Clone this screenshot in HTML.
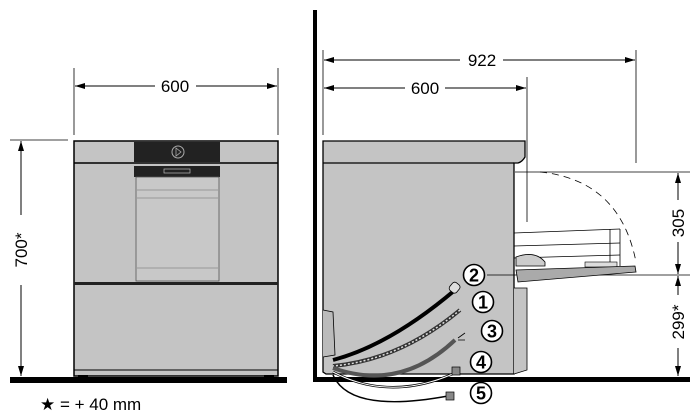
<!DOCTYPE html>
<html><head><style>
body{margin:0;background:#fff}
svg{display:block}
text{font-family:"Liberation Sans",Arial,sans-serif}
</style></head><body>
<svg width="700" height="420" viewBox="0 0 700 420" xmlns="http://www.w3.org/2000/svg">
<defs>
<marker id="a" viewBox="0 0 10 6" refX="10" refY="3" markerWidth="11" markerHeight="6" orient="auto-start-reverse" markerUnits="userSpaceOnUse"><path d="M0,0L10,3L0,6z" fill="#000"/></marker>
</defs>
<!-- LEFT FRONT VIEW -->
<rect x="10" y="377" width="277" height="6" fill="#000"/>
<line x1="74" y1="68" x2="74" y2="135" stroke="#000" stroke-width="0.8"/>
<line x1="278" y1="68" x2="278" y2="135" stroke="#000" stroke-width="0.8"/>
<line x1="75" y1="86" x2="155" y2="86" stroke="#000" stroke-width="1" marker-start="url(#a)"/>
<line x1="196" y1="86" x2="277" y2="86" stroke="#000" stroke-width="1" marker-end="url(#a)"/>
<text x="175" y="92" font-size="17" text-anchor="middle">600</text>
<line x1="10" y1="140" x2="68" y2="140" stroke="#000" stroke-width="0.8"/>
<line x1="21" y1="141" x2="21" y2="215" stroke="#000" stroke-width="1" marker-start="url(#a)"/>
<line x1="21" y1="285" x2="21" y2="376" stroke="#000" stroke-width="1" marker-end="url(#a)"/>
<text transform="translate(27,250) rotate(-90)" font-size="17" text-anchor="middle">700*</text>
<rect x="74" y="141" width="204" height="235" fill="#c4c4c4" stroke="#000" stroke-width="1.5"/>
<line x1="74" y1="163" x2="278" y2="163" stroke="#000" stroke-width="1.5"/>
<rect x="134" y="142" width="86" height="20" fill="#222"/>
<circle cx="178" cy="152" r="6" fill="none" stroke="#aaa" stroke-width="1"/>
<path d="M176,148L181,152L176,156z" fill="none" stroke="#aaa" stroke-width="0.8"/>
<rect x="134" y="166" width="86" height="11" fill="#222"/>
<rect x="164" y="169" width="26" height="4" fill="none" stroke="#bbb" stroke-width="0.7"/>
<rect x="136" y="177" width="83" height="104" fill="#c8c8c8" stroke="#555" stroke-width="0.8"/>
<line x1="137" y1="190" x2="218" y2="190" stroke="#888" stroke-width="0.7"/>
<line x1="137" y1="198" x2="218" y2="198" stroke="#888" stroke-width="0.7"/>
<line x1="137" y1="268" x2="218" y2="268" stroke="#888" stroke-width="0.7"/>
<rect x="74" y="282" width="204" height="3" fill="#222"/>
<line x1="74" y1="370" x2="278" y2="370" stroke="#000" stroke-width="1"/>
<rect x="78" y="375" width="10" height="3" fill="#000"/>
<rect x="264" y="375" width="10" height="3" fill="#000"/>
<text x="40" y="410" font-size="17">★ = + 40 mm</text>

<!-- RIGHT SIDE VIEW -->
<rect x="313" y="10" width="4" height="372" fill="#000"/>
<rect x="313" y="377" width="377" height="5" fill="#000"/>
<line x1="323" y1="50" x2="323" y2="135" stroke="#000" stroke-width="0.8"/>
<line x1="636" y1="50" x2="636" y2="163" stroke="#000" stroke-width="0.8"/>
<line x1="527" y1="77" x2="527" y2="222" stroke="#000" stroke-width="0.8"/>
<line x1="324" y1="60" x2="460" y2="60" stroke="#000" stroke-width="1" marker-start="url(#a)"/>
<line x1="503" y1="60" x2="635" y2="60" stroke="#000" stroke-width="1" marker-end="url(#a)"/>
<text x="482" y="66" font-size="17" text-anchor="middle">922</text>
<line x1="324" y1="88" x2="405" y2="88" stroke="#000" stroke-width="1" marker-start="url(#a)"/>
<line x1="445" y1="88" x2="526" y2="88" stroke="#000" stroke-width="1" marker-end="url(#a)"/>
<text x="425" y="94" font-size="17" text-anchor="middle">600</text>
<!-- cabinet -->
<path d="M323,141 L525,141 L525,157 Q522,162 518,163 L514,163 L514,374 L326,374 L323,372 Z" fill="#c4c4c4" stroke="#000" stroke-width="1.3"/>
<line x1="323" y1="163" x2="514" y2="163" stroke="#000" stroke-width="1.2"/>
<path d="M514,288 L527,288 L527,370 L514,374" fill="#c4c4c4" stroke="#000" stroke-width="0.8"/>
<path d="M323,310 L333,312 L335,355 L323,357" fill="#bbb" stroke="#000" stroke-width="0.8"/>
<!-- dimension 305/299 -->
<line x1="515" y1="172" x2="690" y2="172" stroke="#000" stroke-width="0.8"/>
<line x1="487" y1="275" x2="690" y2="275" stroke="#000" stroke-width="0.8"/>
<line x1="678" y1="173" x2="678" y2="200" stroke="#000" stroke-width="1" marker-start="url(#a)"/>
<line x1="678" y1="242" x2="678" y2="274" stroke="#000" stroke-width="1" marker-end="url(#a)"/>
<text transform="translate(684,223) rotate(-90)" font-size="17" text-anchor="middle">305</text>
<line x1="678" y1="276" x2="678" y2="295" stroke="#000" stroke-width="1" marker-start="url(#a)"/>
<line x1="678" y1="348" x2="678" y2="376" stroke="#000" stroke-width="1" marker-end="url(#a)"/>
<text transform="translate(684,322) rotate(-90)" font-size="17" text-anchor="middle">299*</text>
<!-- dashed arc -->
<path d="M540,172 Q620,180 636,262" fill="none" stroke="#000" stroke-width="0.8" stroke-dasharray="7,5"/>
<!-- rack -->
<line x1="514" y1="233" x2="620" y2="229" stroke="#000" stroke-width="0.8"/>
<line x1="514" y1="246" x2="620" y2="243" stroke="#000" stroke-width="0.8"/>
<line x1="514" y1="258" x2="620" y2="255" stroke="#000" stroke-width="0.8"/>
<line x1="610" y1="229" x2="610" y2="266" stroke="#000" stroke-width="0.8"/>
<line x1="620" y1="229" x2="620" y2="266" stroke="#000" stroke-width="0.8"/>
<path d="M516,257 Q535,250 545,262 L545,266 L516,266 Z" fill="#ccc" stroke="#000" stroke-width="0.8"/>
<rect x="585" y="262" width="32" height="5" fill="#ddd" stroke="#000" stroke-width="0.6"/>
<path d="M516,270 L635,266 L636,272 L518,282 Z" fill="#aaa" stroke="#000" stroke-width="0.8"/>
<!-- hoses -->
<path d="M455,290 Q390,345 333,360" stroke="#000" stroke-width="4" fill="none"/>
<rect x="450" y="283" width="9" height="10" rx="3" fill="#ddd" stroke="#000" stroke-width="0.8" transform="rotate(40 455 288)"/>
<path d="M460,310 Q400,360 333,366" stroke="#333" stroke-width="4" fill="none"/>
<path d="M460,310 Q400,360 333,366" stroke="#ddd" stroke-width="1.5" fill="none" stroke-dasharray="2,2"/>
<path d="M455,340 Q400,392 333,368" stroke="#555" stroke-width="4" fill="none"/>
<path d="M458,338 L465,333 M458,340 L465,340" stroke="#000" stroke-width="0.8"/>
<path d="M455,373 Q390,402 333,372" stroke="#000" stroke-width="2.5" fill="none"/>
<path d="M455,373 Q390,402 333,372" stroke="#fff" stroke-width="1" fill="none"/>
<rect x="452" y="367" width="8" height="8" fill="#888" stroke="#000" stroke-width="0.7"/>
<path d="M448,396 Q350,414 333,375" stroke="#000" stroke-width="1.5" fill="none"/>
<rect x="446" y="392" width="8" height="8" fill="#888" stroke="#000" stroke-width="0.7"/>
<!-- callouts -->
<g stroke="#000" stroke-width="1.6">
<circle cx="474" cy="275" r="10.5" fill="#fff"/>
<circle cx="483" cy="302" r="10.5" fill="#fff"/>
<circle cx="492" cy="331" r="10.5" fill="#fff"/>
<circle cx="481" cy="362" r="10.5" fill="#fff"/>
<circle cx="481" cy="393" r="10.5" fill="#fff"/>
</g>
<g font-size="18" font-weight="bold" text-anchor="middle">
<text x="474" y="281.5">2</text>
<text x="483" y="308.5">1</text>
<text x="492" y="337.5">3</text>
<text x="481" y="368.5">4</text>
<text x="481" y="399.5">5</text>
</g>
</svg>
</body></html>
